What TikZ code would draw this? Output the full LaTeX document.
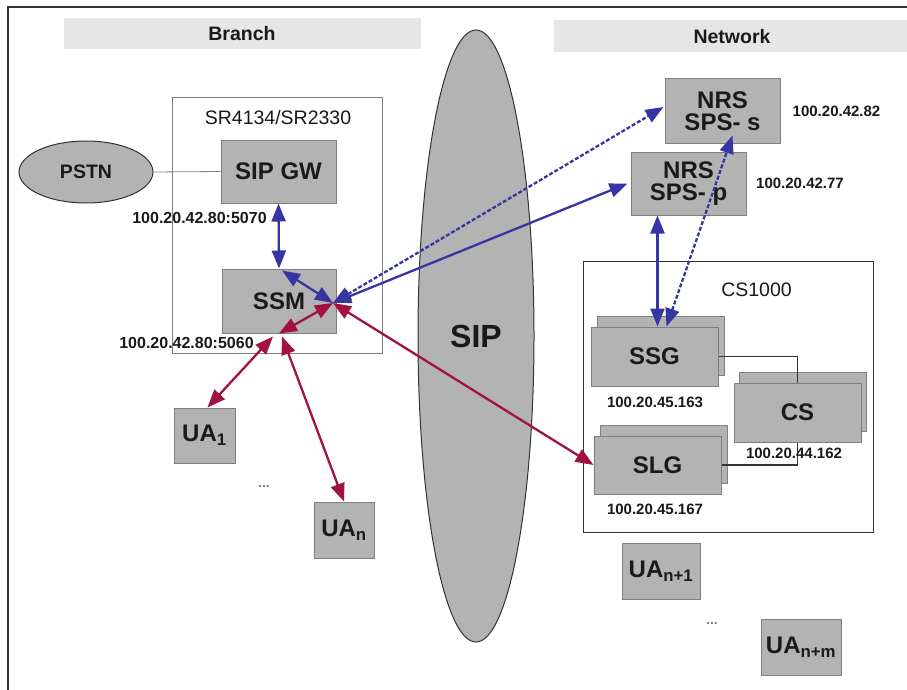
\documentclass[tikz,border=0pt]{standalone}
\usepackage{fontspec}
\setmainfont{Liberation Sans}
\usetikzlibrary{arrows.meta,shapes.geometric,calc}

\definecolor{boxfill}{HTML}{B3B3B3}
\definecolor{boxline}{HTML}{7F7F7F}
\definecolor{banner}{HTML}{E6E6E6}
\definecolor{sigblue}{HTML}{3636A3}
\definecolor{sigred}{HTML}{A3123F}
\definecolor{ink}{HTML}{1A1A1A}
\definecolor{frameline}{HTML}{333333}

\tikzset{
  unit/.style={draw=boxline, fill=boxfill, line width=1pt, inner sep=0pt,
    text=ink, font=\fontsize{24}{22}\selectfont\bfseries, align=center},
  cloud/.style={ellipse, draw=frameline, fill=boxfill, line width=1pt, inner sep=0pt,
    text=ink, font=\fontsize{19.5}{22}\selectfont\bfseries},
  group/.style={draw=boxline, line width=1pt, inner sep=0pt},
  grouptitle/.style={text=ink, font=\fontsize{19.5}{22}\selectfont, inner sep=0pt},
  addr/.style={text=ink, font=\fontsize{15}{17}\selectfont\bfseries, inner sep=0pt},
  addrbig/.style={text=ink, font=\fontsize{16}{18}\selectfont\bfseries, inner sep=0pt},
  bannertext/.style={text=ink, font=\fontsize{19.5}{22}\selectfont\bfseries, inner sep=0pt},
  dots/.style={text=boxline, font=\fontsize{14}{16}\selectfont\bfseries, inner sep=0pt},
  bigtips/.style={arrows={Triangle[length=18pt,width=14pt]-Triangle[length=18pt,width=14pt]}},
  blueline/.style={draw=sigblue, line width=2.3pt, bigtips},
  bluedash/.style={blueline, dash pattern=on 4pt off 2pt},
  redline/.style={draw=sigred, line width=2.3pt, bigtips},
  wire/.style={draw=frameline, line width=1.2pt},
  thinwire/.style={draw=boxline, line width=0.8pt},
}

\begin{document}
\begin{tikzpicture}[x=1pt,y=-1pt]
\useasboundingbox (0,0) rectangle (907,690);
\fill[white] (0,0) rectangle (907,690);

% outer frame
\draw[frameline, line width=2pt] (8,700) -- (8,7) -- (912,7);

% section banners
\fill[banner] (64,18) rectangle (421,49);
\node[bannertext] (branch) at (242,34) {Branch};
\fill[banner] (554,20) rectangle (912,52);
\node[bannertext] (network) at (732,37) {Network};

% SIP cloud
\node[cloud, minimum width=116pt, minimum height=612pt,
      font=\fontsize{32}{36}\selectfont\bfseries] (sip) at (476,336) {SIP};

% branch router
\node[group, minimum width=210pt, minimum height=255pt] (sr) at (277,225.5) {};
\node[grouptitle] (srtitle) at (278,118) {SR4134/SR2330};
\node[cloud, minimum width=134pt, minimum height=62pt] (pstn) at (86,172) {PSTN};
\node[unit, minimum width=115pt, minimum height=63pt] (sipgw) at (278.5,171.5) {SIP GW};
\node[unit, minimum width=114pt, minimum height=64pt] (ssm) at (279,301) {SSM};
\node[addrbig] (gwaddr) at (199.5,218) {100.20.42.80:5070};
\node[addrbig] (ssmaddr) at (186.5,343) {100.20.42.80:5060};

% branch user agents
\node[unit, minimum width=61pt, minimum height=55pt] (ua1) at (204.5,435.5) {UA\textsubscript{1}};
\node[unit, minimum width=60pt, minimum height=56pt] (uan) at (344,530) {UA\textsubscript{n}};
\node[dots] (bdots) at (264,486) {...};

% network redirect servers
\node[unit, minimum width=115pt, minimum height=64pt] (nrss) at (722.5,111) {NRS\\SPS- s};
\node[unit, minimum width=115pt, minimum height=63pt] (nrsp) at (688.5,183.5) {NRS\\SPS- p};
\node[addr] (nrssaddr) at (836.5,111) {100.20.42.82};
\node[addr] (nrspaddr) at (800,183) {100.20.42.77};

% CS1000 system
\node[group, draw=frameline, minimum width=290pt, minimum height=271pt] (cs1000) at (728,396.5) {};
\node[grouptitle] (cstitle) at (756.5,290) {CS1000};

\node[unit, minimum width=127pt, minimum height=59pt] (ssgb) at (660.5,345.5) {};
\node[unit, minimum width=127pt, minimum height=59pt] (ssg) at (654.5,356.5) {SSG};
\node[unit, minimum width=127pt, minimum height=59pt] (csb) at (803,401.5) {};
\node[unit, minimum width=127pt, minimum height=59pt] (cs) at (797.5,412.5) {CS};
\node[unit, minimum width=127pt, minimum height=58pt] (slgb) at (663.5,454) {};
\node[unit, minimum width=127pt, minimum height=58pt] (slg) at (657.5,465) {SLG};

\draw[wire] (ssg.east) -| (cs.north);
\draw[wire] (slg.east) -| (cs.south);

\node[addr] (ssgaddr) at (655,402) {100.20.45.163};
\node[addr] (csaddr) at (794,453) {100.20.44.162};
\node[addr] (slgaddr) at (655,509) {100.20.45.167};

% network user agents
\node[unit, minimum width=78pt, minimum height=56pt] (uan1) at (661,571) {UA\textsubscript{n+1}};
\node[unit, minimum width=80pt, minimum height=56pt] (uanm) at (801,647) {UA\textsubscript{n+m}};
\node[dots] (ndots) at (712,623) {...};

% signalling
\coordinate (hub) at (333,303);
\draw[thinwire] (pstn.east) -- (sipgw.west);

\draw[blueline] (sipgw.south) -- (ssm.north);
\draw[blueline] ($(ssm.north)+(3,2)$) -- (hub);
\draw[blueline] (hub) -- ($(nrsp.west)+(-3,0)$);
\draw[bluedash] (hub) -- ($(nrss.west)+(-1,-4)$);
\draw[blueline] ($(nrsp.south -| ssg.north)+(3,0)$) -- ($(ssg.north)+(3,0)$);
\draw[bluedash] ($(ssg.north)+(12,0)$) -- ($(nrss.south)+(10,-8)$);

\draw[redline] (hub) -- (ssm.south);
\draw[redline] ($(ssm.south)+(-6,3)$) -- ($(ua1.north)+(3,0)$);
\draw[redline] ($(ssm.south)+(3,3)$) -- (uan.north);
\draw[redline] (hub) -- (slg.west);
\end{tikzpicture}
\end{document}
